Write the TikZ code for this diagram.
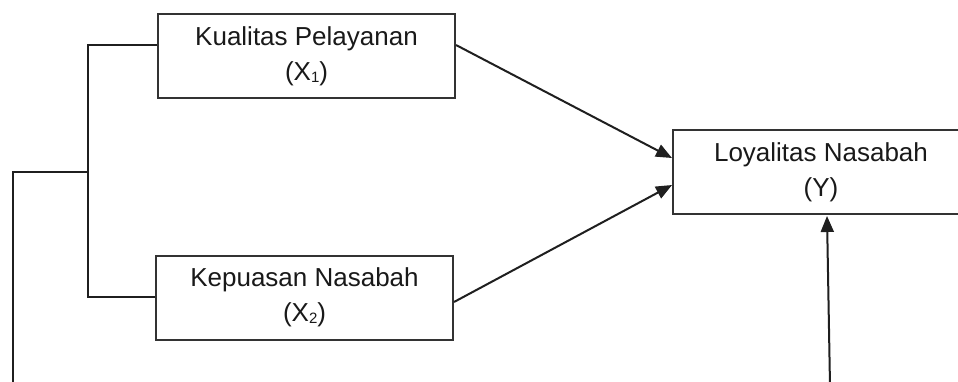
\documentclass[tikz,border=0pt]{standalone}
\usepackage{fontspec}
\setmainfont{Liberation Sans}
\usetikzlibrary{arrows.meta,calc}
\newcommand{\varsub}[1]{\raisebox{-2pt}{\fontsize{15}{15}\selectfont #1}}
\begin{document}
\begin{tikzpicture}[x=1pt,y=-1pt,
  varbox/.style={draw=black!80, line width=2pt, fill=white,
    minimum width=297pt, minimum height=84pt, align=center,
    font=\fontsize{26}{35}\selectfont, text=black!90, inner sep=0pt},
  link/.style={line width=2pt, draw=black!88},
  arrow/.style={link, -{Triangle[length=16pt,width=13pt]}}]
\useasboundingbox (0,0) rectangle (958,381);

% variables
\node[varbox] (x1) at (306.5,56) {Kualitas Pelayanan\\(X\varsub{1})};
\node[varbox] (x2) at (304.5,297.5) {Kepuasan Nasabah\\(X\varsub{2})};
\node[varbox, minimum width=296pt] (y) at (821,172) {Loyalitas Nasabah\\(Y)};

% bracket joining the two independent variables
\coordinate (j1) at (88,45);
\coordinate (j2) at (88,297);
\coordinate (jm) at (88,172);
\coordinate (lc) at (13,172);
\coordinate (lb) at (13,386);
\draw[link] ($(x1.west)+(0,-11)$) -- (j1) -- (j2) -- (x2.west |- j2);
\draw[link] (jm) -- (lc) -- (lb);

% effects on loyalty
\draw[arrow] ($(x1.east)+(0,-11)$) -- ($(y.west)+(0,-14)$);
\draw[arrow] ($(x2.east)+(0,4.5)$) -- ($(y.west)+(0,13)$);
\coordinate (bb) at (830,386);
\draw[arrow] (bb) -- ($(y.south)+(6,1)$);
\end{tikzpicture}
\end{document}
